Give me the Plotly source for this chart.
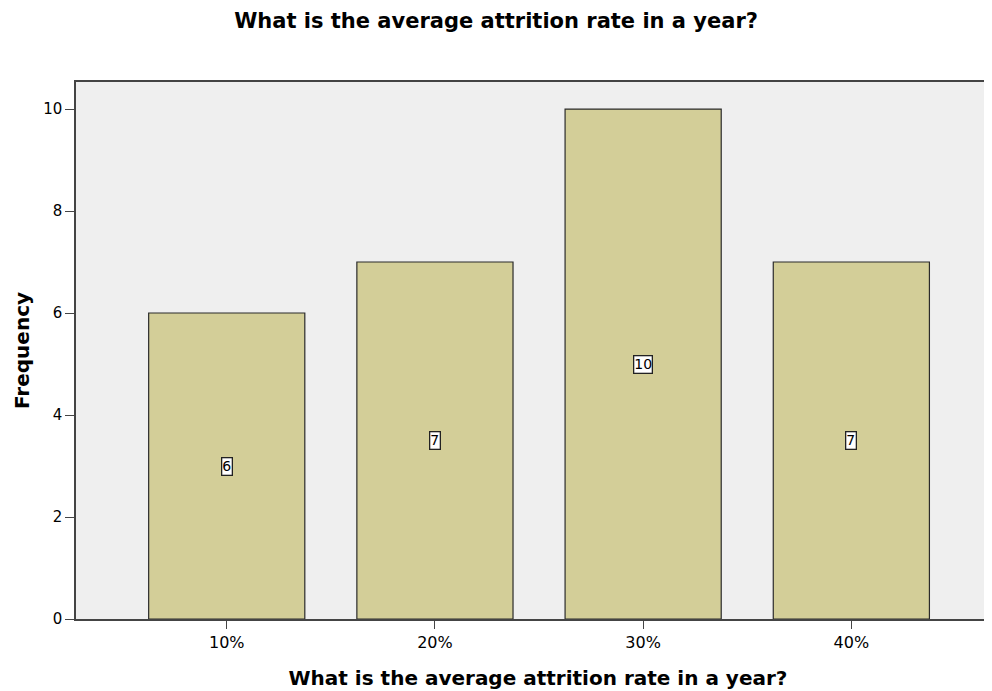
import plotly.graph_objects as go

categories = ["10%", "20%", "30%", "40%"]
frequency = [6, 7, 10, 7]
title_text = "What is the average attrition rate in a year?"

FONT = "DejaVu Sans, Verdana, sans-serif"

fig = go.Figure()
fig.add_trace(go.Bar(
    x=categories, y=frequency, width=0.75,
    marker=dict(color="#D3CE98", line=dict(color="#2B2B2B", width=1.2)),
    hoverinfo="x+y",
))

for c, v in zip(categories, frequency):
    fig.add_annotation(x=c, y=v / 2, text=str(v), showarrow=False,
                       font=dict(family=FONT, size=14, color="#000"),
                       bgcolor="white", bordercolor="#222", borderwidth=1.3, borderpad=0)

fig.update_layout(
    width=992, height=691,
    margin=dict(l=68, r=0, t=74, b=80),
    paper_bgcolor="white", plot_bgcolor="#EFEFEF",
    showlegend=False,
    title=dict(text="<b>" + title_text + "</b>", x=0.492, xanchor="center", y=0.982, yanchor="middle",
               font=dict(family=FONT, size=21, color="#000")),
    font=dict(family=FONT, size=14, color="#000"),
)
fig.update_xaxes(
    range=[-0.724, 3.714], showline=True, linecolor="#444", linewidth=1.5, mirror=True,
    ticks="outside", ticklen=8, tickcolor="#444", showgrid=False,
    tickfont=dict(family=FONT, size=16),
    title=dict(text="<b>" + title_text + "</b>", font=dict(family=FONT, size=20), standoff=20),
)
fig.update_yaxes(
    range=[0, 10.53], tickvals=[0, 2, 4, 6, 8, 10], showline=True, linecolor="#444", linewidth=1.5,
    ticks="outside", ticklen=9, tickcolor="#444", showgrid=False, zeroline=False,
    tickfont=dict(family=FONT, size=15),
    title=dict(text="<b>Frequency</b>", font=dict(family=FONT, size=20), standoff=8),
)

fig.write_html("out.html")
